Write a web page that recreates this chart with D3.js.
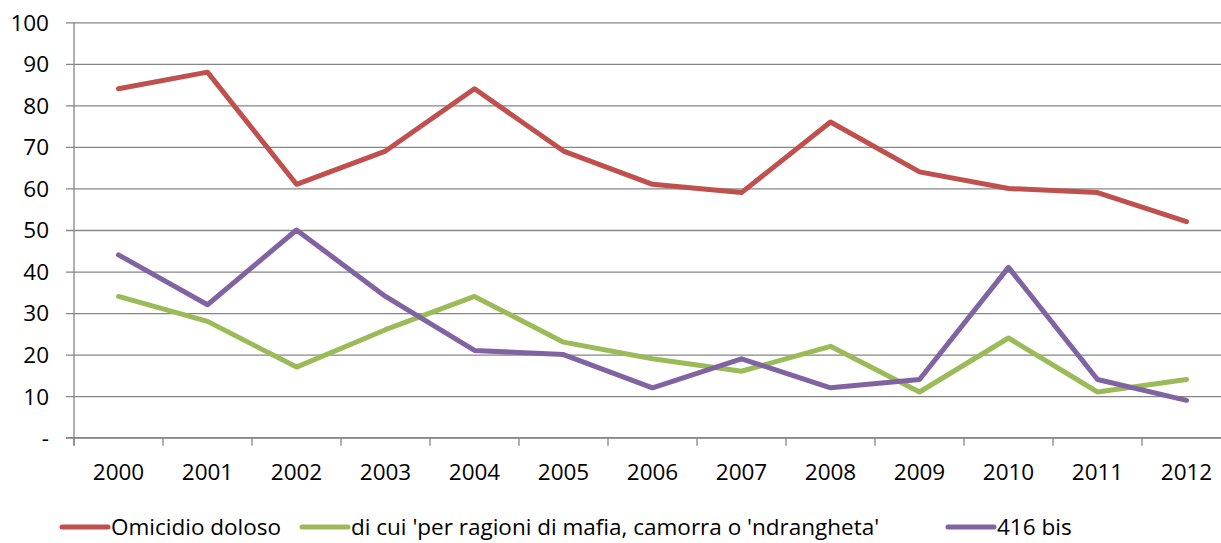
<!DOCTYPE html>
<html><head><meta charset="utf-8">
<script src="https://cdn.jsdelivr.net/npm/d3@7"></script>
<style>
html,body{margin:0;padding:0;background:#fff;}
svg text{font-family:"Open Sans","Noto Sans",sans-serif;fill:#000;}
</style></head>
<body><svg id="c" width="1221" height="543"></svg>
<script>
const years = ["2000","2001","2002","2003","2004","2005","2006","2007","2008","2009","2010","2011","2012"];
const omicidio = [84,88,61,69,84,69,61,59,76,64,60,59,52];
const mafia = [34,28,17,26,34,23,19,16,22,11,24,11,14];
const bis416 = [44,32,50,34,21,20,12,19,12,14,41,14,9];
const seriesNames = ["Omicidio doloso","di cui 'per ragioni di mafia, camorra o 'ndrangheta'","416 bis"];
const seriesColors = ["#C0504D","#9BBB59","#8064A2"];
const yTicks = [0,10,20,30,40,50,60,70,80,90,100];
const FS = "22.5px";

const svg = d3.select("#c");
const x = d3.scaleBand().domain(years).range([74,74+13*89]);
const y = d3.scaleLinear().domain([0,100]).range([437.7,22.3]);

// gridlines + y labels
const yAxis = d3.axisLeft(y).tickValues(yTicks).tickSize(8).tickFormat(d=>d===0?"-":d);
const gy = svg.append("g").attr("transform","translate(74,0)").call(yAxis);
gy.attr("font-size",null).attr("font-family",null);
gy.select(".domain").remove();
gy.selectAll(".tick line").attr("x1",-8).attr("x2",1221).attr("stroke","#868686").attr("stroke-width",1.3);
gy.selectAll(".tick text").attr("x",-25).style("font-size",FS).attr("dy","0.35em");

// x axis
const gx = svg.append("g").attr("transform","translate(0,437.7)");
gx.append("line").attr("x1",66).attr("x2",1221).attr("stroke","#868686").attr("stroke-width",1.3);
const tickPos = years.map(d=>x(d)).concat([x(years[years.length-1])+x.bandwidth()]);
gx.selectAll("line.t").data(tickPos).join("line").attr("class","t")
  .attr("x1",d=>d).attr("x2",d=>d).attr("y1",0).attr("y2",8).attr("stroke","#868686").attr("stroke-width",1.3);
gx.selectAll("text").data(years).join("text")
  .attr("x",d=>x(d)+x.bandwidth()/2).attr("y",34.5).attr("dy","0.35em").attr("text-anchor","middle").style("font-size",FS).text(d=>d);
svg.append("line").attr("x1",74).attr("x2",74).attr("y1",22.3).attr("y2",445.7).attr("stroke","#868686").attr("stroke-width",1.3);

const data = [omicidio,mafia,bis416];
const line = d3.line().x((d,i)=>x(years[i])+x.bandwidth()/2).y(d=>y(d));
data.forEach((s,k)=>{
  svg.append("path").datum(s).attr("d",line).attr("fill","none")
    .attr("stroke",seriesColors[k]).attr("stroke-width",5)
    .attr("stroke-linejoin","round").attr("stroke-linecap","round");
});

// legend
const legX = [62,302,948];
const lg = svg.append("g");
seriesNames.forEach((n,k)=>{
  lg.append("line").attr("x1",legX[k]).attr("x2",legX[k]+46).attr("y1",527).attr("y2",527)
    .attr("stroke",seriesColors[k]).attr("stroke-width",5).attr("stroke-linecap","round");
  lg.append("text").attr("x",legX[k]+49).attr("y",527).attr("dy","0.35em").style("font-size",FS).text(n);
});
</script></body></html>
